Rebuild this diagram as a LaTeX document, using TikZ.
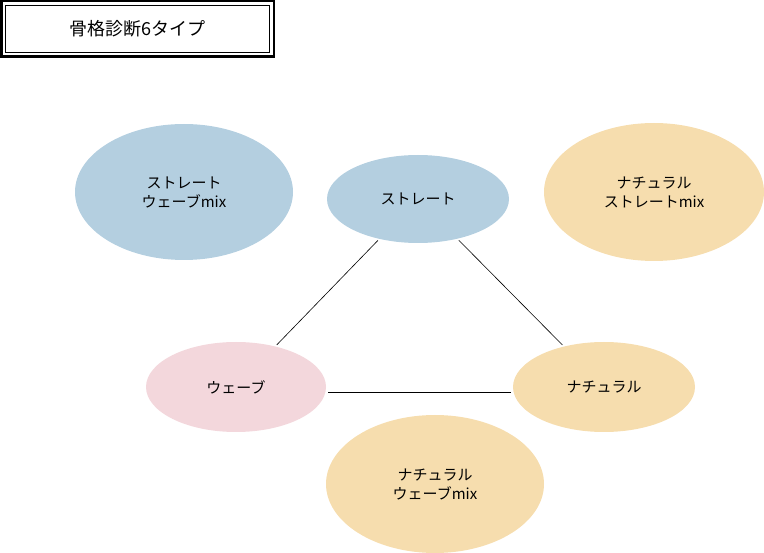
\documentclass[tikz,border=0pt]{standalone}
\usepackage{fontspec}
\setmainfont{Noto Sans CJK JP}
\usetikzlibrary{shapes.geometric}
\definecolor{cblue}{HTML}{B4CFE0}
\definecolor{cpink}{HTML}{F3D7DC}
\definecolor{corange}{HTML}{F6DDAE}
\begin{document}
\begin{tikzpicture}[x=1pt,y=-1pt,
  blob/.style={ellipse,inner sep=0pt,align=center,font=\fontsize{15}{19}\selectfont},
  link/.style={draw=black,line width=0.6pt,shorten >=2pt,shorten <=2pt}]
\useasboundingbox (0,0) rectangle (764,553);
\draw[line width=2.5pt] (1.25,1.25) rectangle (273.75,56.75);
\draw[line width=0.8pt] (5.5,5.5) rectangle (269.5,52.5);
\node (title) at (137.5,29) {\fontsize{18}{22}\selectfont 骨格診断6タイプ};
\node[blob,fill=cblue,minimum width=218,minimum height=136] (swm) at (184,192) {ストレート\\ウェーブmix};
\node[blob,fill=cblue,minimum width=182,minimum height=88] (s) at (418,199) {ストレート};
\node[blob,fill=corange,minimum width=220,minimum height=138] (nsm) at (654,192) {ナチュラル\\ストレートmix};
\node[blob,fill=cpink,minimum width=180,minimum height=90] (w) at (236,387) {ウェーブ};
\node[blob,fill=corange,minimum width=182,minimum height=90] (n) at (604,387) {ナチュラル};
\node[blob,fill=corange,minimum width=218,minimum height=138] (nwm) at (435,484) {ナチュラル\\ウェーブmix};
\draw[link] (s) -- (w);
\draw[link] (s) -- (n);
\draw[link] ([yshift=-5]w.east) -- ([yshift=-5]n.west);
\end{tikzpicture}
\end{document}
